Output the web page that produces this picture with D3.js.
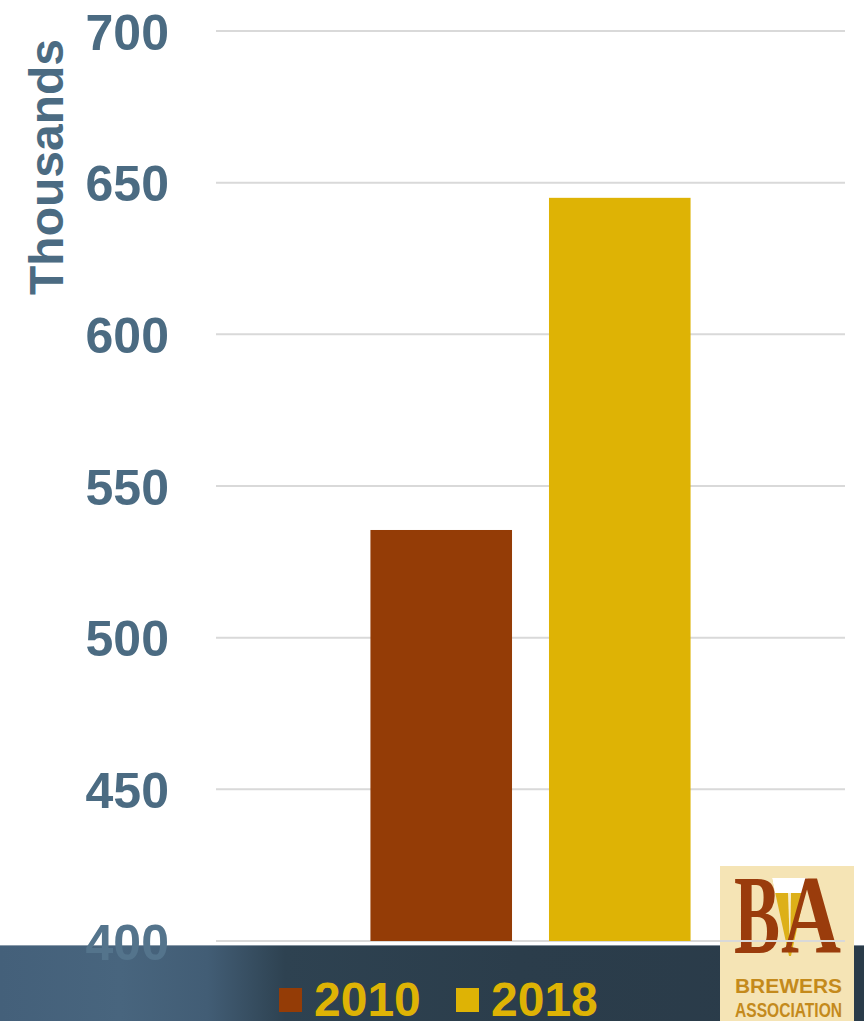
<!DOCTYPE html>
<html>
<head>
<meta charset="utf-8">
<script src="https://cdn.jsdelivr.net/npm/d3@7"></script>
<style>
  html, body { margin: 0; padding: 0; background: #fff; }
  svg { display: block; }
</style>
</head>
<body>
<svg id="chart" width="864" height="1021"></svg>
<script>
// Chart data
const series = ["2010", "2018"];
const values = [535.5, 645];
const colors = ["#943c06", "#deb305"];
const yTicks = [400, 450, 500, 550, 600, 650, 700];
const yLabel = "Thousands";

const W = 864, H = 1021;
const plot = { left: 216, right: 845, top: 31, bottom: 941 };
const svg = d3.select("#chart");
const defs = svg.append("defs");

// Dark footer band with a soft left-to-right gradient
const grad = defs.append("linearGradient").attr("id", "band").attr("x1", 0).attr("x2", 1).attr("y1", 0).attr("y2", 0);
[[0, "#44607a"], [0.14, "#48657e"], [0.24, "#425d75"], [0.33, "#2e4251"], [0.6, "#2b3d4b"], [1, "#2a3b49"]]
  .forEach(([o, c]) => grad.append("stop").attr("offset", o).attr("stop-color", c));
svg.append("rect").attr("x", 0).attr("y", 945).attr("width", W).attr("height", H - 945).attr("fill", "url(#band)");
svg.append("line").attr("x1", 0).attr("x2", W).attr("y1", 945.5).attr("y2", 945.5)
  .attr("stroke", "#b9c3cc").attr("stroke-width", 1).attr("opacity", 0.6);

const y = d3.scaleLinear().domain([400, 700]).range([plot.bottom, plot.top]);
const x = d3.scaleBand().domain(series).range([plot.left, plot.right]).paddingInner(0.207).paddingOuter(0.865);

// Logo panel (drawn under the gridlines)
const logo = svg.append("g").attr("class", "logo");
logo.append("rect").attr("x", 720).attr("y", 866).attr("width", 134).attr("height", 155).attr("fill", "#f5e4b5");
// beer glass between the letters
logo.append("path").attr("d", "M772,878 L808,878 L791,956 L789,956 Z").attr("fill", "#ddb018");
logo.append("path").attr("d", "M772,878 L808,878 L805,893 L775,893 Z").attr("fill", "#ffffff");
logo.append("path").attr("d", "M788,893 L791,893 L790,950 Z").attr("fill", "#ffffff").attr("opacity", 0.8);
const serif = "Liberation Serif, DejaVu Serif, serif";
logo.append("text").attr("x", 734).attr("y", 953).attr("font-family", serif).attr("font-weight", "bold")
  .attr("font-size", 112).attr("fill", "#9a3c0c").attr("textLength", 46).attr("lengthAdjust", "spacingAndGlyphs").text("B");
logo.append("text").attr("x", 781).attr("y", 953).attr("font-family", serif).attr("font-weight", "bold")
  .attr("font-size", 112).attr("fill", "#9a3c0c").attr("textLength", 60).attr("lengthAdjust", "spacingAndGlyphs").text("A");
logo.append("text").attr("x", 735).attr("y", 993).attr("font-family", "Liberation Sans Narrow, Liberation Sans, sans-serif")
  .attr("font-weight", "bold").attr("font-size", 21).attr("fill", "#c48a1c")
  .attr("textLength", 107).attr("lengthAdjust", "spacingAndGlyphs").text("BREWERS");
logo.append("text").attr("x", 735).attr("y", 1017).attr("font-family", "Liberation Sans Narrow, Liberation Sans, sans-serif")
  .attr("font-weight", "bold").attr("font-size", 20).attr("fill", "#c48a1c")
  .attr("textLength", 107).attr("lengthAdjust", "spacingAndGlyphs").text("ASSOCIATION");

// Gridlines
svg.append("g").selectAll("line").data(yTicks).join("line")
  .attr("x1", plot.left).attr("x2", plot.right)
  .attr("y1", d => y(d)).attr("y2", d => y(d))
  .attr("stroke", "#d9d9d9").attr("stroke-width", 2);

// Bars
svg.append("g").selectAll("rect").data(series).join("rect")
  .attr("x", d => x(d)).attr("width", x.bandwidth())
  .attr("y", (d, i) => y(values[i])).attr("height", (d, i) => y(400) - y(values[i]))
  .attr("fill", (d, i) => colors[i]);

// Y axis labels
const yAxis = d3.axisLeft(y).tickValues(yTicks).tickSize(0).tickPadding(0);
const ya = svg.append("g").attr("transform", "translate(169,0)").call(yAxis);
ya.select(".domain").remove();
ya.selectAll("text").attr("font-family", "Liberation Sans, Arial, sans-serif").attr("font-weight", "bold")
  .attr("font-size", 50).attr("fill", "#4b6b82").attr("dy", "0.36em");
ya.selectAll(".tick").filter(d => d === 400).select("text").attr("fill", "#54748c");

// Axis title
svg.append("text").attr("transform", "translate(63,167) rotate(-90)").attr("text-anchor", "middle")
  .attr("font-family", "Liberation Sans, Arial, sans-serif").attr("font-weight", "bold")
  .attr("font-size", 48).attr("fill", "#4b6b82").text(yLabel);

// Legend
const legendX = [279, 456];
const lg = svg.append("g").selectAll("g").data(series).join("g")
  .attr("transform", (d, i) => `translate(${legendX[i]},0)`);
lg.append("rect").attr("x", 0).attr("y", 988).attr("width", 23).attr("height", 24).attr("fill", (d, i) => colors[i]);
lg.append("text").attr("x", 35).attr("y", 1016).attr("font-family", "Liberation Sans, Arial, sans-serif")
  .attr("font-weight", "bold").attr("font-size", 48).attr("fill", "#deb305").text(d => d);
</script>
</body>
</html>
